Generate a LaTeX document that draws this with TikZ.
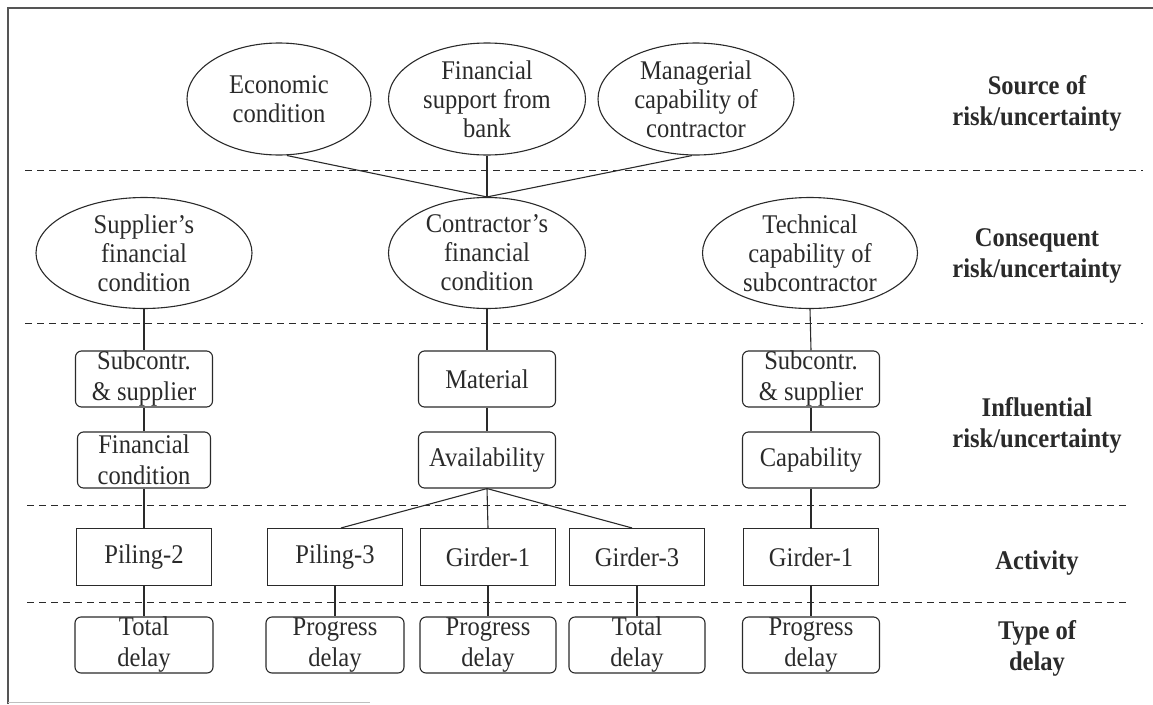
\documentclass[tikz,border=0pt]{standalone}
\usepackage{fontspec}
\setmainfont[FakeStretch=0.91]{Liberation Serif}
\usetikzlibrary{shapes.geometric}
\definecolor{ink}{HTML}{2A2A2A}
\begin{document}
\begin{tikzpicture}[x=1pt,y=-1pt,
  ell/.style={ellipse, draw=ink, line width=1.1pt, inner sep=-5pt, align=center, text=ink, font=\fontsize{27}{29}\selectfont},
  rbox/.style={rectangle, rounded corners=6pt, draw=ink, line width=1.1pt, minimum width=137pt, minimum height=56pt, inner sep=0pt, align=center, text=ink, font=\fontsize{27}{31}\selectfont},
  sbox/.style={rectangle, draw=ink, line width=1.1pt, minimum width=135pt, minimum height=57pt, inner sep=0pt, align=center, text=ink, font=\fontsize{27}{31}\selectfont},
  lab/.style={align=center, text=ink, font=\bfseries\fontsize{27}{31}\selectfont},
  conn/.style={draw=ink, line width=1.1pt},
  sep/.style={draw=ink, line width=1pt, dash pattern=on 7pt off 5pt},
  frame/.style={draw=ink!80, line width=1.3pt}]
\useasboundingbox (0,0) rectangle (1153,704);
% frame
\draw[frame] (8,704) -- (8,8) -- (1153,8);
\draw[draw=ink!30, line width=0.8pt] (8,702) -- (370,702);
% separators
\draw[sep] (25,170) -- (1143,170);
\draw[sep] (25,323) -- (1143,323);
\draw[sep] (27,505) -- (1130,505);
\draw[sep] (27,602) -- (1130,602);
% sources
\node[ell, minimum width=184pt, minimum height=112pt] (eco) at (279,99) {Economic\\condition};
\node[ell, minimum width=197pt, minimum height=112pt] (fin) at (487,99) {Financial\\support from\\bank};
\node[ell, minimum width=196pt, minimum height=112pt] (man) at (696,99) {Managerial\\capability of\\contractor};
% consequent
\node[ell, minimum width=216pt, minimum height=111pt] (sup) at (144,253) {Supplier’s\\financial\\condition};
\node[ell, minimum width=197pt, minimum height=111pt] (con) at (487,253) {Contractor’s\\financial\\condition};
\node[ell, minimum width=215pt, minimum height=111pt] (tec) at (810,253) {Technical\\capability of\\subcontractor};
% influential
\node[rbox] (sc1) at (144,379) {Subcontr.\\\& supplier};
\node[rbox, minimum width=133pt] (fc) at (144,460) {Financial\\condition};
\node[rbox] (mat) at (487,379) {Material};
\node[rbox] (ava) at (487,460) {Availability};
\node[rbox] (sc2) at (811,379) {Subcontr.\\\& supplier};
\node[rbox] (cap) at (811,460) {Capability};
% activity
\node[sbox] (p2) at (144,557) {Piling-2};
\node[sbox] (p3) at (335,557) {Piling-3};
\node[sbox] (g1a) at (488,557) {Girder-1};
\node[sbox] (g3) at (637,557) {Girder-3};
\node[sbox] (g1b) at (811,557) {Girder-1};
% delay
\node[rbox, minimum width=138pt] (d1) at (144,645) {Total\\delay};
\node[rbox, minimum width=138pt] (d2) at (335,645) {Progress\\delay};
\node[rbox, minimum width=136pt] (d3) at (488,645) {Progress\\delay};
\node[rbox, minimum width=136pt] (d4) at (637,645) {Total\\delay};
\node[rbox, minimum width=137pt] (d5) at (811,645) {Progress\\delay};
% labels
\node[lab] (l1) at (1037,103) {Source of\\risk/uncertainty};
\node[lab] (l2) at (1037,256) {Consequent\\risk/uncertainty};
\node[lab] (l3) at (1037,425) {Influential\\risk/uncertainty};
\node[lab] (l4) at (1037,563) {Activity};
\node[lab] (l5) at (1037,648) {Type of\\delay};
% connectors
\draw[conn] ([xshift=8pt]eco.south) -- (con.north);
\draw[conn] (fin.south) -- (con.north);
\draw[conn] ([xshift=-4pt]man.south) -- (con.north);
\draw[conn] (sup.south) -- (sc1.north);
\draw[conn] (sc1.south) -- (fc.north);
\draw[conn] (fc.south) -- (p2.north);
\draw[conn] (p2.south) -- (d1.north);
\draw[conn] (con.south) -- (mat.north);
\draw[conn] (mat.south) -- (ava.north);
\draw[conn] (ava.south) -- ([xshift=6pt]p3.north);
\draw[conn] (ava.south) -- (g1a.north);
\draw[conn] (ava.south) -- ([xshift=-5pt]g3.north);
\draw[conn] (p3.south) -- (d2.north);
\draw[conn] (g1a.south) -- (d3.north);
\draw[conn] (g3.south) -- (d4.north);
\draw[conn] (tec.south) -- (sc2.north);
\draw[conn] (sc2.south) -- (cap.north);
\draw[conn] (cap.south) -- (g1b.north);
\draw[conn] (g1b.south) -- (d5.north);
\end{tikzpicture}
\end{document}
